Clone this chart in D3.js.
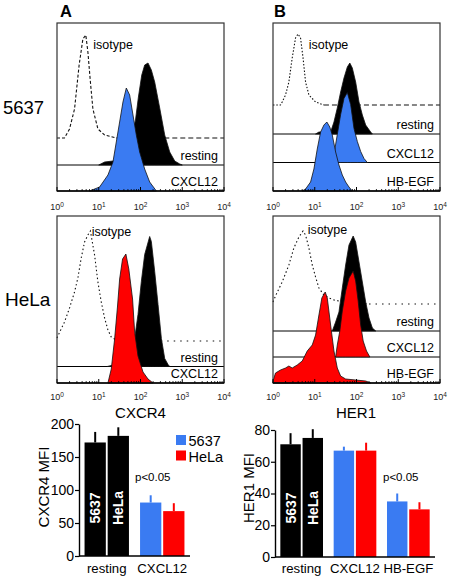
<!DOCTYPE html>
<html><head><meta charset="utf-8">
<script src="https://cdn.jsdelivr.net/npm/d3@7"></script>
<style>
body{margin:0;background:#fff}
svg{display:block}
text{font-family:"Liberation Sans",Arial,Helvetica,sans-serif}
</style>
</head><body>
<svg id="c" width="452" height="580"></svg>
<script>
// ---------- DATA ----------
// flow histograms: [log10 fluorescence, events]
const logDecades = [0, 1, 2, 3, 4];

const cxcr4_5637_isotype = [[0,0],[0.18,0],[0.30,9],[0.42,29],[0.53,73],[0.62,99],[0.69,103],[0.74,86],[0.80,56],[0.86,29],[0.98,9],[1.14,3],[1.42,0]];
const cxcr4_5637_resting = [[1.0,0],[1.14,3],[1.34,4],[1.55,8],[1.7,18],[1.8,30],[1.88,45],[1.95,68],[2.03,90],[2.1,100],[2.18,102],[2.26,95],[2.34,83],[2.46,57],[2.58,30],[2.7,13],[2.82,4],[2.94,1],[3.0,0]];
const cxcr4_5637_cxcl12 = [[0.78,0],[1.02,4],[1.22,16],[1.34,29],[1.42,49],[1.50,69],[1.58,89],[1.66,103],[1.74,96],[1.82,76],[1.90,56],[1.98,39],[2.10,22],[2.22,9],[2.38,0]];

const her1_5637_isotype = [[0,0],[0.18,0],[0.22,3],[0.30,10],[0.38,23],[0.46,47],[0.54,67],[0.60,71],[0.66,67],[0.72,47],[0.78,23],[0.86,10],[1.02,3],[1.22,0]];
const her1_5637_resting = [[1.02,0],[1.10,2],[1.38,2],[1.46,12],[1.54,26],[1.62,42],[1.70,56],[1.78,67],[1.84,71],[1.90,66],[1.98,52],[2.06,32],[2.14,19],[2.22,9],[2.34,2],[2.38,0]];
const her1_5637_cxcl12 = [[1.38,0],[1.46,8],[1.54,28],[1.62,48],[1.70,64],[1.78,70],[1.86,58],[1.94,34],[2.02,21],[2.10,11],[2.18,4],[2.26,0]];
const her1_5637_hbegf = [[0.70,0],[0.78,2],[0.90,9],[0.98,22],[1.06,42],[1.14,59],[1.22,66],[1.29,69],[1.36,64],[1.42,56],[1.50,39],[1.58,26],[1.66,16],[1.74,9],[1.82,4],[1.90,0]];

const cxcr4_hela_isotype = [[0,3],[0.065,9],[0.18,19],[0.30,33],[0.42,49],[0.50,63],[0.58,83],[0.66,99],[0.74,106],[0.80,110],[0.90,86],[0.98,59],[1.06,39],[1.14,23],[1.22,11],[1.30,4],[1.42,1],[1.55,0]];
const cxcr4_hela_resting = [[1.2,0],[1.5,3],[1.7,12],[1.8,22],[1.86,28],[1.94,52],[2.02,85],[2.10,112],[2.22,130],[2.26,125],[2.34,95],[2.42,62],[2.50,28],[2.58,8],[2.66,2],[2.70,0]];
const cxcr4_hela_cxcl12 = [[1.22,0],[1.30,14],[1.38,44],[1.45,77],[1.50,104],[1.57,124],[1.65,129],[1.72,114],[1.81,84],[1.86,51],[1.94,27],[2.06,11],[2.18,4],[2.30,0]];

const her1_hela_isotype = [[0,2],[0.07,9],[0.22,22],[0.38,39],[0.50,56],[0.62,67],[0.72,73],[0.78,69],[0.86,56],[0.94,39],[1.02,27],[1.10,16],[1.22,9],[1.34,6],[1.46,4],[1.58,3],[1.74,2],[1.98,1],[2.30,0]];
const her1_hela_resting = [[1.42,0],[1.50,9],[1.58,19],[1.66,43],[1.74,66],[1.82,86],[1.92,95],[1.98,89],[2.06,69],[2.14,49],[2.22,29],[2.30,13],[2.38,3],[2.46,0]];
const her1_hela_cxcl12 = [[1.50,0],[1.54,12],[1.60,26],[1.66,46],[1.74,66],[1.82,79],[1.92,86],[1.98,76],[2.04,56],[2.10,32],[2.16,16],[2.24,6],[2.32,0]];
const her1_hela_hbegf = [[0,2],[0.06,10],[0.18,13],[0.30,15],[0.38,17],[0.46,15],[0.58,18],[0.70,22],[0.82,32],[0.94,38],[1.02,48],[1.10,68],[1.17,85],[1.25,91],[1.30,85],[1.38,58],[1.46,32],[1.54,15],[1.62,7],[1.74,4],[1.98,3],[2.22,2],[2.34,0]];

// bar charts
const barSeries = ["5637", "HeLa"];
const cxcr4Categories = ["resting", "CXCL12"];
const cxcr4MFI_5637 = [172, 81];
const cxcr4MFI_HeLa = [182, 68];
const cxcr4Err_5637 = [16, 11];
const cxcr4Err_HeLa = [13, 12];
const cxcr4Ticks = [0, 50, 100, 150, 200];

const her1Categories = ["resting", "CXCL12", "HB-EGF"];
const her1MFI_5637 = [71, 67, 35];
const her1MFI_HeLa = [75, 67, 30];
const her1Err_5637 = [7, 2.5, 5];
const her1Err_HeLa = [5.5, 5, 4.5];
const her1Ticks = [0, 20, 40, 60, 80];

// ---------- STYLE / LAYOUT ----------
const BLUE = "#3a7bf2", RED = "#fe0000";
const svg = d3.select("#c");

const histPanels = [
  {x0:57, x1:224, y0:23, y1:191, tly:19,
   iso:{data:cxcr4_5637_isotype, off:53, dash:"3,2", baseDash:"5,3", lab:[0.87,26]},
   fills:[{data:cxcr4_5637_resting, off:26, color:"#000", label:"resting"},
          {data:cxcr4_5637_cxcl12, off:0, color:BLUE, label:"CXCL12"}]},
  {x0:273, x1:440, y0:23, y1:191, tly:19,
   iso:{data:her1_5637_isotype, off:86, dash:"1.5,1.8", baseDash:"5,3", lab:[0.855,26]},
   fills:[{data:her1_5637_resting, off:57, color:"#000", label:"resting"},
          {data:her1_5637_cxcl12, off:28.5, color:BLUE, label:"CXCL12"},
          {data:her1_5637_hbegf, off:0, color:BLUE, label:"HB-EGF"}]},
  {x0:57, x1:224, y0:216, y1:383, tly:17,
   iso:{data:cxcr4_hela_isotype, off:42, dash:"1.5,2.5", baseDash:"1.5,5", lab:[0.83,20]},
   fills:[{data:cxcr4_hela_resting, off:16.5, color:"#000", label:"resting"},
          {data:cxcr4_hela_cxcl12, off:0, color:RED, label:"CXCL12"}]},
  {x0:273, x1:440, y0:216, y1:383, tly:17,
   iso:{data:her1_hela_isotype, off:79, dash:"1.5,2.5", baseDash:"1.5,5", lab:[0.83,18]},
   fills:[{data:her1_hela_resting, off:52, color:"#000", label:"resting"},
          {data:her1_hela_cxcl12, off:26, color:RED, label:"CXCL12"},
          {data:her1_hela_hbegf, off:0, color:RED, label:"HB-EGF"}]}
];

histPanels.forEach(p => {
  const g = svg.append("g");
  const x = d3.scaleLinear().domain([0, 4]).range([p.x0, p.x1]);
  const cnt = d3.scaleLinear().domain([0, 168]).range([0, 168]);
  p.fills.forEach(f => {
    if (f.off > 0) {
      g.append("line").attr("x1", p.x0).attr("x2", p.x1)
        .attr("y1", p.y1 - f.off).attr("y2", p.y1 - f.off)
        .attr("stroke", "#000").attr("stroke-width", 1);
    }
  });
  const ib = p.y1 - p.iso.off;
  const line = d3.line().x(d => x(d[0])).y(d => ib - cnt(d[1]));
  g.append("path").attr("d", line(p.iso.data)).attr("fill", "none")
    .attr("stroke", "#111").attr("stroke-width", 1.1).attr("stroke-dasharray", p.iso.dash);
  const last = p.iso.data[p.iso.data.length - 1];
  g.append("line").attr("x1", x(last[0])).attr("x2", p.x1)
    .attr("y1", ib - cnt(last[1])).attr("y2", ib - cnt(last[1]))
    .attr("stroke", "#111").attr("stroke-width", 1.1).attr("stroke-dasharray", p.iso.baseDash);
  p.fills.forEach(f => {
    const b = p.y1 - f.off;
    const area = d3.area().x(d => x(d[0])).y0(b).y1(d => b - cnt(d[1]));
    g.append("path").attr("d", area(f.data)).attr("fill", f.color)
      .attr("stroke", "#111").attr("stroke-width", 0.8).attr("stroke-linejoin", "round");
  });
  g.append("text").attr("x", x(p.iso.lab[0])).attr("y", p.y0 + p.iso.lab[1])
    .attr("font-size", 12.5).text("isotype");
  p.fills.forEach(f => {
    g.append("text").attr("x", p.x1 - 6).attr("y", p.y1 - f.off - 5)
      .attr("text-anchor", "end").attr("font-size", 12.5).text(f.label);
  });
  g.append("rect").attr("x", p.x0).attr("y", p.y0).attr("width", p.x1 - p.x0).attr("height", p.y1 - p.y0)
    .attr("fill", "none").attr("stroke", "#333").attr("stroke-width", 1.2);
  g.append("line").attr("x1", p.x0).attr("x2", p.x1).attr("y1", p.y1).attr("y2", p.y1)
    .attr("stroke", "#000").attr("stroke-width", 1.3);
  const minor = [];
  for (let d = 0; d < 4; d++) for (let k = 2; k <= 9; k++) minor.push(d + Math.log10(k));
  g.selectAll(".mn").data(minor).join("line")
    .attr("x1", d => x(d)).attr("x2", d => x(d)).attr("y1", p.y1).attr("y2", p.y1 - 2)
    .attr("stroke", "#000").attr("stroke-width", 0.8);
  g.selectAll(".mj").data(logDecades).join("line")
    .attr("x1", d => x(d)).attr("x2", d => x(d)).attr("y1", p.y1).attr("y2", p.y1 - 4)
    .attr("stroke", "#000").attr("stroke-width", 1);
  const tl = g.selectAll(".tl").data(logDecades).join("text")
    .attr("x", d => x(d)).attr("y", p.y1 + p.tly).attr("text-anchor", "middle")
    .attr("font-size", 9).attr("fill", "#222");
  tl.append("tspan").text("10");
  tl.append("tspan").attr("font-size", 6.5).attr("dy", -3.5).text(d => d);
});

svg.append("text").attr("x", 60).attr("y", 17).attr("font-size", 16.5).attr("font-weight", "bold").text("A");
svg.append("text").attr("x", 274).attr("y", 17).attr("font-size", 16.5).attr("font-weight", "bold").text("B");
svg.append("text").attr("x", 3).attr("y", 114).attr("font-size", 18.5).text("5637");
svg.append("text").attr("x", 5).attr("y", 306).attr("font-size", 19).text("HeLa");
svg.append("text").attr("x", 140.5).attr("y", 418).attr("text-anchor", "middle").attr("font-size", 15).text("CXCR4");
svg.append("text").attr("x", 356).attr("y", 418).attr("text-anchor", "middle").attr("font-size", 15).text("HER1");

// ---------- BAR CHARTS ----------
function drawBars(o) {
  const g = svg.append("g");
  const x = d3.scaleBand().domain(o.cats).range([o.ax0, o.ax1]).paddingInner(0.2).paddingOuter(0.1);
  const xs = d3.scaleBand().domain(barSeries).range([0, x.bandwidth()]).paddingInner(0.08);
  const y = d3.scaleLinear().domain([0, o.max]).range([o.yb, o.yt]);
  const rows = [];
  o.cats.forEach((c, i) => barSeries.forEach((s, j) => rows.push({
    c, s, v: o.vals[j][i], e: o.errs[j][i], color: i === 0 ? "#000" : (j === 0 ? BLUE : RED)
  })));
  g.selectAll("rect.bar").data(rows).join("rect").attr("class", "bar")
    .attr("x", d => x(d.c) + xs(d.s)).attr("width", xs.bandwidth())
    .attr("y", d => y(d.v)).attr("height", d => y(0) - y(d.v))
    .attr("fill", d => d.color);
  g.selectAll("line.err").data(rows).join("line").attr("class", "err")
    .attr("x1", d => x(d.c) + xs(d.s) + xs.bandwidth() / 2)
    .attr("x2", d => x(d.c) + xs(d.s) + xs.bandwidth() / 2)
    .attr("y1", d => y(d.v)).attr("y2", d => y(d.v + d.e))
    .attr("stroke", d => d.color).attr("stroke-width", 2);
  g.selectAll("text.in").data(rows.filter(d => d.c === o.cats[0])).join("text").attr("class", "in")
    .attr("transform", d => `translate(${x(d.c) + xs(d.s) + xs.bandwidth() / 2},508) rotate(-90)`)
    .attr("text-anchor", "middle").attr("dominant-baseline", "central")
    .attr("fill", "#fff").attr("font-weight", "bold").attr("font-size", 14).text(d => d.s);
  const ya = g.append("g").attr("transform", `translate(${o.ax0},0)`)
    .call(d3.axisLeft(y).tickValues(o.ticks).tickSize(4).tickSizeOuter(0).tickPadding(1));
  ya.select(".domain").attr("stroke", "#000").attr("stroke-width", 1.4);
  ya.selectAll(".tick line").attr("stroke", "#000").attr("stroke-width", 1.2);
  ya.selectAll(".tick text").attr("font-size", 14).attr("fill", "#000")
    .attr("font-family", '"Liberation Sans",Arial,sans-serif');
  g.append("line").attr("x1", o.ax0).attr("x2", o.ax1).attr("y1", o.yb).attr("y2", o.yb)
    .attr("stroke", "#000").attr("stroke-width", 1.4);
  g.selectAll("text.cat").data(o.cats).join("text").attr("class", "cat")
    .attr("x", d => x(d) + x.bandwidth() / 2).attr("y", 573)
    .attr("text-anchor", "middle").attr("font-size", 13.2).text(d => d);
  g.append("text").attr("transform", `translate(${o.titleX},${o.titleY}) rotate(-90)`)
    .attr("text-anchor", "middle").attr("font-size", 15).text(o.title);
  g.append("text").attr("x", o.pX).attr("y", 481).attr("font-size", 11.5).text("p<0.05");
}

drawBars({cats: cxcr4Categories, vals: [cxcr4MFI_5637, cxcr4MFI_HeLa], errs: [cxcr4Err_5637, cxcr4Err_HeLa],
  max: 200, ticks: cxcr4Ticks, ax0: 79, ax1: 190, yb: 556, yt: 424,
  title: "CXCR4 MFI", titleX: 49, titleY: 487, pX: 135});
drawBars({cats: her1Categories, vals: [her1MFI_5637, her1MFI_HeLa], errs: [her1Err_5637, her1Err_HeLa],
  max: 80, ticks: her1Ticks, ax0: 275, ax1: 435, yb: 557, yt: 430,
  title: "HER1 MFI", titleX: 254, titleY: 488, pX: 383});

const leg = svg.append("g");
[["5637", BLUE], ["HeLa", RED]].forEach((d, i) => {
  leg.append("rect").attr("x", 176).attr("y", 435 + i * 15.5).attr("width", 10).attr("height", 10).attr("fill", d[1]);
  leg.append("text").attr("x", 188.5).attr("y", 446 + i * 15.5).attr("font-size", 14.5).text(d[0]);
});
</script>
</body></html>
